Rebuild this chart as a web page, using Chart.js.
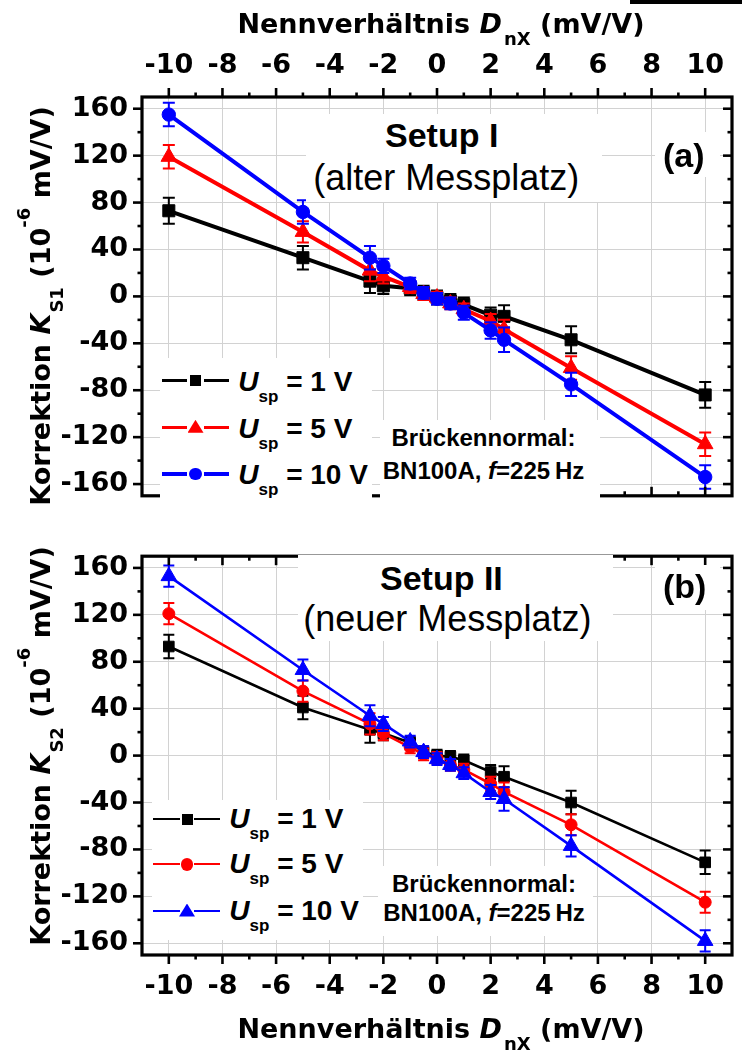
<!DOCTYPE html>
<html><head><meta charset="utf-8">
<script src="https://cdn.jsdelivr.net/npm/chart.js@4.4.1/dist/chart.umd.min.js"></script>
<style>
html,body{margin:0;padding:0;background:#fff;}
body{width:742px;height:1051px;position:relative;overflow:hidden;}
canvas{position:absolute;left:0;z-index:1;}
#cA{top:0;} #cB{top:526px;}
.box{position:absolute;background:#fff;z-index:2;}
.t{position:absolute;white-space:nowrap;line-height:1;color:#000;z-index:3;}
.ax{font-family:"DejaVu Sans",sans-serif;font-weight:bold;font-size:27px;}
.an{font-family:"Liberation Sans",Arial,sans-serif;}
.sub{font-size:18px;vertical-align:-12px;margin-left:2px;}
.ysub{font-size:18px;vertical-align:-13px;margin-left:1px;}
.ysup{font-size:18px;vertical-align:20px;}
.leg{font-weight:bold;font-size:28px;}
.ls{font-size:17px;vertical-align:-11px;}
.sym{position:absolute;z-index:3;}
#bar{position:absolute;left:630px;top:0;width:112px;height:4px;background:#000;z-index:4;}
</style>
</head><body>
<canvas id="cA" width="742" height="526"></canvas>
<canvas id="cB" width="742" height="525"></canvas>
<div id="bar"></div>
<div id="overlay"></div>
<script>
// ---------------- DATA ----------------
const xValues = [-10, -5, -2.5, -2, -1, -0.5, 0, 0.5, 1, 2, 2.5, 5, 10];
const xTickValues = [-10, -8, -6, -4, -2, 0, 2, 4, 6, 8, 10];
const yTickValues = [-160, -120, -80, -40, 0, 40, 80, 120, 160];
const supplyVoltages = [1, 5, 10];

// Panel (a) Setup I (alter Messplatz)
const a_U1     = [73, 33, 13, 9, 7, 3, -1, -4, -7, -16, -17, -37, -84];
const a_U1_err = [11, 10, 10, 7, 6, 6, 6, 6, 6, 6.5, 9.5, 11.5, 11];
const a_U5     = [119, 55, 22, 17, 8, 2, -1, -6, -11, -21, -28, -61, -126];
const a_U5_err = [10, 9, 9, 6, 5, 5, 5, 5, 5, 6, 8, 10, 10];
const a_U10    = [155, 72, 33, 26, 11, 3, -2, -6, -14, -29, -37, -75, -154];
const a_U10_err= [10, 10, 10, 6, 5, 5, 5, 5, 6, 7, 10.5, 10, 10];

// Panel (b) Setup II (neuer Messplatz)
const b_U1     = [93, 41, 22, 19, 11, 3, 0, -1, -4, -14, -18, -40, -91];
const b_U1_err = [10, 10, 11, 6, 5, 5, 5, 5, 5, 6, 9, 10, 10];
const b_U5     = [121, 55, 27, 19, 7, 1, -2, -8, -12, -24, -31, -59, -125];
const b_U5_err = [9, 9, 9, 6, 5, 5, 5, 5, 5, 6, 8, 9, 9];
const b_U10    = [153, 73, 34, 27, 12, 3, -3, -8, -15, -31, -37, -77, -158];
const b_U10_err= [9, 9, 9, 6, 5, 5, 5, 5, 5, 6, 10, 9, 9];

// ---------------- PLUGINS ----------------
const errorBars = {
  id: 'errorBars',
  beforeDatasetDraw(chart, args) {
    const ds = chart.data.datasets[args.index];
    if (!ds.errors) return;
    const meta = args.meta, ys = chart.scales[meta.yAxisID];
    const ctx = chart.ctx;
    ctx.save();
    ctx.strokeStyle = ds.borderColor;
    ctx.lineWidth = ds.errWidth || 2;
    const cap = ds.capHalf || 6;
    meta.data.forEach((el, i) => {
      const v = ds.data[i].y, e = ds.errors[i];
      const x = el.x, y1 = ys.getPixelForValue(v + e), y2 = ys.getPixelForValue(v - e);
      ctx.beginPath();
      ctx.moveTo(x, y1); ctx.lineTo(x, y2);
      ctx.moveTo(x - cap, y1); ctx.lineTo(x + cap, y1);
      ctx.moveTo(x - cap, y2); ctx.lineTo(x + cap, y2);
      ctx.stroke();
    });
    ctx.restore();
  }
};

const frameTicks = {
  id: 'frameTicks',
  afterDraw(chart, args, o) {
    const { ctx, chartArea: a } = chart;
    const xs = chart.scales.x, ys = chart.scales.y;
    ctx.save();
    ctx.strokeStyle = '#000';
    ctx.lineWidth = 2.6;
    ctx.lineCap = 'butt';
    const seg = (x1, y1, x2, y2) => { ctx.beginPath(); ctx.moveTo(x1, y1); ctx.lineTo(x2, y2); ctx.stroke(); };
    const MAJ = 9, MIN = 4.5;
    const xMinor = xTickValues.slice(0, -1).map((v, i) => (v + xTickValues[i + 1]) / 2);
    const yMinor = yTickValues.slice(0, -1).map((v, i) => (v + yTickValues[i + 1]) / 2);
    const topS = o.top === 'out' ? -1 : 1;
    const botS = o.bottom === 'out' ? 1 : -1;
    const xt = (v, L) => { const p = xs.getPixelForValue(v); seg(p, a.top, p, a.top + topS * L); seg(p, a.bottom, p, a.bottom + botS * L); };
    const yt = (v, L) => { const p = ys.getPixelForValue(v); seg(a.left, p, a.left - L, p); seg(a.right, p, a.right - L, p); };
    xTickValues.forEach(v => xt(v, MAJ));
    xMinor.forEach(v => xt(v, MIN));
    yTickValues.forEach(v => yt(v, MAJ));
    yMinor.forEach(v => yt(v, MIN));
    ctx.lineWidth = 3.2;
    ctx.strokeRect(a.left, a.top, a.right - a.left, a.bottom - a.top);
    ctx.restore();
  }
};

// ---------------- HELPERS ----------------
const pts = arr => xValues.map((x, i) => ({ x: x, y: arr[i] }));
const tickFont = { family: 'DejaVu Sans', weight: 'bold', size: 27 };

function makeDs(label, vals, errs, color, shape, radius, lw, order, capHalf) {
  return {
    label: label, data: pts(vals), errors: errs,
    borderColor: color, backgroundColor: color,
    pointBackgroundColor: color, pointBorderColor: color, pointBorderWidth: 1,
    pointStyle: shape, pointRadius: radius, borderWidth: lw, tension: 0,
    order: order, errWidth: 2, capHalf: capHalf
  };
}

function makeChart(id, datasets, panel) {
  const isA = panel === 'a';
  const xScale = {
    type: 'linear', position: isA ? 'top' : 'bottom', min: -11, max: 11,
    afterBuildTicks: s => { s.ticks = xTickValues.map(v => ({ value: v })); },
    ticks: { font: tickFont, color: '#000', padding: isA ? 15 : 16, maxRotation: 0, autoSkip: false, callback: v => String(v) },
    grid: { color: '#d2d2d2', lineWidth: 1, drawTicks: false },
    border: { display: false },
    afterFit: s => { s.height = isA ? 97 : 96; }
  };
  const yScale = {
    type: 'linear', position: 'left', min: -170, max: 170,
    afterBuildTicks: s => { s.ticks = yTickValues.map(v => ({ value: v })); },
    ticks: { font: tickFont, color: '#000', padding: 14, autoSkip: false, callback: v => String(v) },
    grid: { color: '#d2d2d2', lineWidth: 1, drawTicks: false },
    border: { display: false },
    afterFit: s => { s.width = 142; }
  };
  return new Chart(document.getElementById(id), {
    type: 'line',
    data: { datasets: datasets },
    options: {
      responsive: false, animation: false, devicePixelRatio: 1,
      layout: { padding: isA ? { top: 0, right: 3, bottom: 11, left: 0 } : { top: 11, right: 3, bottom: 0, left: 0 } },
      scales: { x: xScale, y: yScale },
      plugins: {
        legend: { display: false }, tooltip: { enabled: false },
        frameTicks: isA ? { top: 'out', bottom: 'in' } : { top: 'in', bottom: 'out' }
      }
    },
    plugins: [errorBars, frameTicks]
  });
}

makeChart('cA', [
  makeDs('U1', a_U1, a_U1_err, '#000000', 'rect', 8.5, 4, 2, 6),
  makeDs('U5', a_U5, a_U5_err, '#ff0000', 'triangle', 9, 4, 1, 6),
  makeDs('U10', a_U10, a_U10_err, '#0000ff', 'circle', 6.7, 4, 0, 6)
], 'a');

makeChart('cB', [
  makeDs('U1', b_U1, b_U1_err, '#000000', 'rect', 7.5, 2.6, 2, 5.5),
  makeDs('U5', b_U5, b_U5_err, '#ff0000', 'circle', 6, 2.6, 1, 5.5),
  makeDs('U10', b_U10, b_U10_err, '#0000ff', 'triangle', 9, 2.6, 0, 5.5)
], 'b');

// ---------------- TEXT OVERLAYS ----------------
const ov = document.getElementById('overlay');
function add(html) { ov.insertAdjacentHTML('beforeend', html); }
function box(l, t, w, h) { add(`<div class="box" style="left:${l}px;top:${t}px;width:${w}px;height:${h}px"></div>`); }

// white boxes behind annotations
box(306, 114, 296, 88); box(655, 132, 65, 45); box(160, 358, 212, 141); box(380, 420, 220, 78);
box(298, 555, 315, 86); box(655, 565, 65, 45); box(152, 800, 211, 140); box(378, 866, 215, 70);

// axis titles
const xTitle = 'Nennverhältnis <i>D</i><span class="sub">nX</span> (mV/V)';
add(`<div class="t ax" style="left:441px;top:10px;transform:translateX(-50%)">${xTitle}</div>`);
add(`<div class="t ax" style="left:441px;top:1014.5px;transform:translateX(-50%)">${xTitle}</div>`);
function yTitle(idx, cy) {
  add(`<div class="t ax" style="left:40px;top:${cy}px;transform:translate(-50%,-50%) rotate(-90deg)">Korrektion <i>K</i><span class="ysub">S${idx}</span> (10<span class="ysup">-6</span> mV/V)</div>`);
}
yTitle(1, 306); yTitle(2, 746);

// panel annotations
function txt(l, baseline, size, weight, html, extra) {
  const top = baseline - 0.846 * size;
  add(`<div class="t an" style="left:${l}px;top:${top}px;font-size:${size}px;font-weight:${weight};${extra || ''}">${html}</div>`);
}
txt(385, 146.7, 34, 'bold', 'Setup I');
txt(313.3, 190, 36, 'normal', '(alter Messplatz)');
txt(663, 167, 34, 'bold', '(a)');
txt(380, 589.3, 34, 'bold', 'Setup II');
txt(303.3, 631.7, 36, 'normal', '(neuer Messplatz)');
txt(663, 598, 34, 'bold', '(b)');
const bn1 = 'Brückennormal:', bn2 = 'BN100A, <i>f</i>=225&#8201;Hz';
txt(483.5, 446.7, 24, 'bold', bn1, 'transform:translateX(-50%)');
txt(483.5, 479, 24, 'bold', bn2, 'transform:translateX(-50%)');
txt(484, 892.7, 24, 'bold', bn1, 'transform:translateX(-50%)');
txt(484, 921.7, 24, 'bold', bn2, 'transform:translateX(-50%)');

// legends
function legendRow(cy, color, shape, lx1, lx2, rx1, rx2, mx, lw, textLeft, baseOff, volts) {
  add(`<div class="sym" style="left:${lx1}px;top:${cy - lw / 2}px;width:${lx2 - lx1}px;height:${lw}px;background:${color}"></div>`);
  add(`<div class="sym" style="left:${rx1}px;top:${cy - lw / 2}px;width:${rx2 - rx1}px;height:${lw}px;background:${color}"></div>`);
  if (shape === 'rect') add(`<div class="sym" style="left:${mx - 5.5}px;top:${cy - 5.5}px;width:11px;height:11px;background:${color}"></div>`);
  if (shape === 'circle') add(`<div class="sym" style="left:${mx - 6.3}px;top:${cy - 6.3}px;width:12.6px;height:12.6px;border-radius:50%;background:${color}"></div>`);
  if (shape === 'triangle') add(`<div class="sym" style="left:${mx - 8}px;top:${cy - 7.5}px;width:16px;height:13px;background:${color};clip-path:polygon(50% 0,100% 100%,0 100%)"></div>`);
  txt(textLeft, cy + baseOff, 28, 'bold', `<i>U</i><span class="ls">sp</span> = ${volts} V`);
}
const aShapes = ['rect', 'triangle', 'circle'], bShapes = ['rect', 'circle', 'triangle'];
const cols = ['#000000', '#ff0000', '#0000ff'];
const aRows = [380.7, 427.3, 474], bRows = [819.3, 864.3, 911];
supplyVoltages.forEach((u, i) => {
  legendRow(aRows[i], cols[i], aShapes[i], 162, 187, 204, 228.5, 195.5, 3.6, 238.3, 11, u);
  legendRow(bRows[i], cols[i], bShapes[i], 153, 180, 194, 219.5, 187, 2.4, 229.3, 9.5, u);
});
</script>
</body></html>
